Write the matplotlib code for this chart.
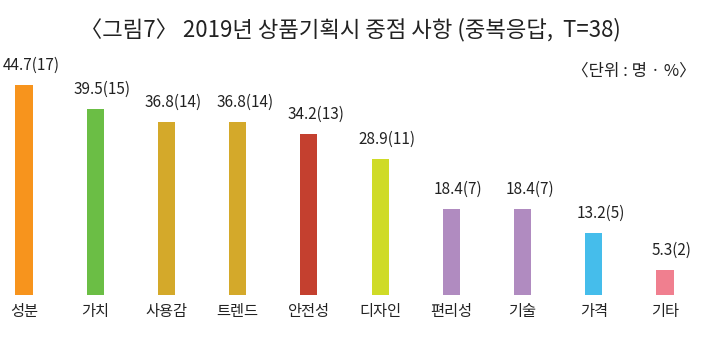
import matplotlib.pyplot as plt

plt.rcParams['font.family'] = ['Noto Sans CJK KR', 'DejaVu Sans']

categories = ['성분', '가치', '사용감', '트렌드', '안전성', '디자인', '편리성', '기술', '가격', '기타']
percents = [44.7, 39.5, 36.8, 36.8, 34.2, 28.9, 18.4, 18.4, 13.2, 5.3]
counts = [17, 15, 14, 14, 13, 11, 7, 7, 5, 2]
colors = ['#F7941D', '#6BBE45', '#D4A92A', '#D4A92A', '#C4402F',
          '#CFDB27', '#B08BC0', '#B08BC0', '#45BDEB', '#F07F8F']

INK = '#222222'

fig = plt.figure(figsize=(7.01, 3.41), dpi=100, facecolor='white')
ax = fig.add_axes([0, 46 / 341, 1, 245 / 341])

x = list(range(len(categories)))
ax.bar(x, percents, width=0.24, color=colors)

for xi, p, c in zip(x, percents, counts):
    ax.annotate(f'{p}({c})', (xi, p), xytext=(5, 8), textcoords='offset points',
                ha='center', va='bottom', fontsize=11, color=INK)

ax.set_xlim(-24 / 71.2, 9 + 36 / 71.2)
ax.set_ylim(0, 44.7 * 245 / 210)
ax.set_xticks(x)
ax.set_xticklabels(categories, fontsize=11, color=INK)
ax.tick_params(axis='x', length=0, pad=6)
ax.set_yticks([])
for s in ax.spines.values():
    s.set_visible(False)

fig.text(0.5, 1 - 30 / 341, '〈그림7〉 2019년 상품기획시 중점 사항 (중복응답,  T=38)',
         ha='center', va='center', fontsize=16, color=INK)
fig.text(0.992, 1 - 71 / 341, '〈단위 : 명 · %〉', ha='right', va='center',
         fontsize=12, color=INK)

plt.savefig('out.png', dpi=100, facecolor='white')
plt.close()
